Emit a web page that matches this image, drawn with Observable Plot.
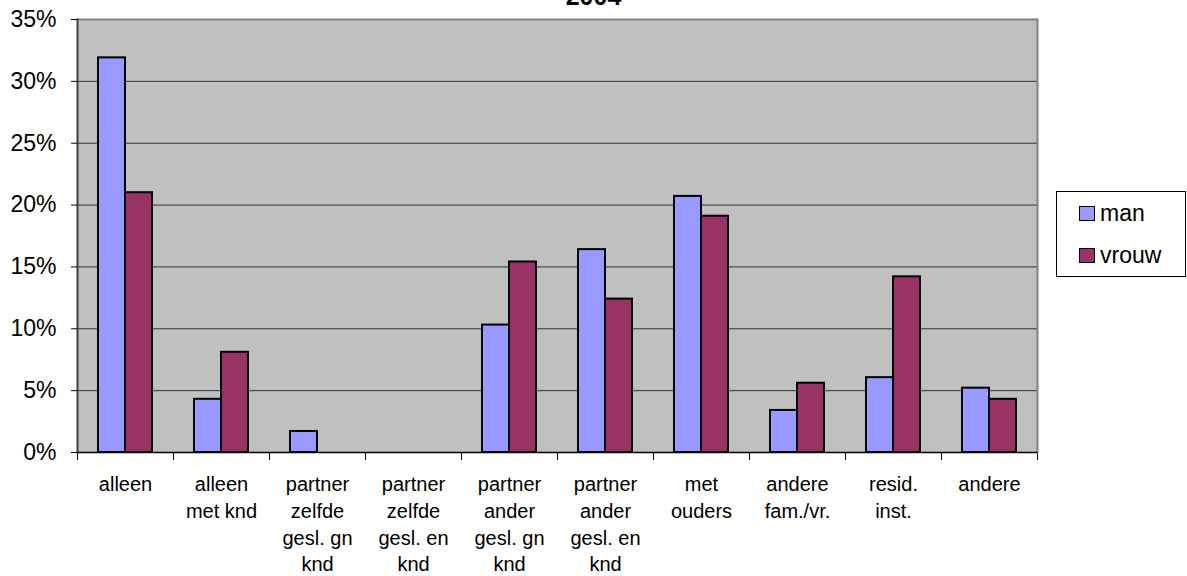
<!DOCTYPE html>
<html><head><meta charset="utf-8">
<script src="https://cdn.jsdelivr.net/npm/d3@7"></script>
<script src="https://cdn.jsdelivr.net/npm/@observablehq/plot@0.6"></script>
<style>
body{margin:0;background:#fff;font-family:"Liberation Sans",Arial,sans-serif;}
#wrap{position:relative;width:1187px;height:576px;overflow:hidden;}
#chart{position:absolute;left:0;top:0;}
#title{position:absolute;left:0;top:-16px;width:1187px;text-align:center;font-weight:bold;font-size:25px;line-height:25px;}
#legend{position:absolute;left:1056px;top:191px;width:130px;height:86px;border:1px solid #000;background:#fff;box-sizing:border-box;}
.item{position:absolute;left:22px;height:17px;display:flex;align-items:center;font-size:23px;line-height:17px;}
.sw{width:14px;height:13px;border:1.5px solid #000;margin-right:5px;flex:none;}
</style></head>
<body><div id="wrap"><div id="chart"></div><div id="title">2004</div><div id="legend"></div></div>
<script>
const categories = ["alleen","alleen\nmet knd","partner\nzelfde\ngesl. gn\nknd","partner\nzelfde\ngesl. en\nknd","partner\nander\ngesl. gn\nknd","partner\nander\ngesl. en\nknd","met\nouders","andere\nfam./vr.","resid.\ninst.","andere"];
const series = ["man","vrouw"];
const manValues = [31.9, 4.3, 1.7, 0, 10.3, 16.4, 20.7, 3.4, 6.05, 5.2];
const vrouwValues = [21.0, 8.1, 0, 0, 15.4, 12.4, 19.1, 5.6, 14.2, 4.3];
const yTicks = [0, 5, 10, 15, 20, 25, 30, 35];
const colors = ["#9999FF", "#993366"];

const data = categories.flatMap((c, i) => [
  {category: c, series: series[0], value: manValues[i]},
  {category: c, series: series[1], value: vrouwValues[i]}
]);

const tickLen = 7, plotH = 433, yMax = 35;
const yMin = -tickLen * yMax / plotH;
const first = categories[0], last = categories[categories.length - 1];

const chart = Plot.plot({
  width: 1187, height: 576,
  marginLeft: 76, marginRight: 150, marginTop: 19, marginBottom: 117,
  style: {fontFamily: '"Liberation Sans", Arial, sans-serif', color: "#000", background: "transparent"},
  fx: {domain: categories, padding: 0, axis: null},
  x: {domain: series, paddingInner: 0, paddingOuter: 0.75, axis: null},
  y: {domain: [yMin, yMax], axis: null},
  color: {domain: series, range: colors},
  marks: [
    Plot.frame({anchor: "left", stroke: "#000"}),
    Plot.frame({anchor: "right", stroke: "#000"}),
    Plot.rect([0], {y1: 0, y2: yMax, fill: "#C0C0C0", shapeRendering: "crispEdges"}),
    Plot.ruleY(yTicks.filter(t => t > 0 && t < yMax), {stroke: "#333", strokeWidth: 1}),
    Plot.ruleY([yMax], {stroke: "#808080", strokeWidth: 2}),
    Plot.frame({anchor: "left", fx: () => first, stroke: "#404040", strokeWidth: 2, insetBottom: tickLen}),
    Plot.frame({anchor: "right", fx: () => last, stroke: "#808080", strokeWidth: 2, insetBottom: tickLen}),
    Plot.barY(data, {filter: d => d.value > 0, fx: "category", x: "series", y: "value", fill: "series", stroke: "#000", strokeWidth: 2}),
    Plot.ruleY([0], {stroke: "#000", strokeWidth: 1.5}),
    Plot.axisY(yTicks, {tickSize: 6, tickPadding: 15, tickFormat: d => d + "%", fontSize: 23, stroke: "#000", fill: "#000", label: null}),
    Plot.axisFx({anchor: "bottom", tickSize: 0, tickPadding: 13, fontSize: 20, lineHeight: 1.33, label: null, fill: "#000"})
  ]
});
document.getElementById("chart").appendChild(chart);

const legend = document.getElementById("legend");
series.forEach((s, i) => {
  const item = document.createElement("div");
  item.className = "item";
  item.style.top = (13 + i * 42) + "px";
  const sw = document.createElement("div");
  sw.className = "sw";
  sw.style.background = colors[i];
  const t = document.createElement("span");
  t.textContent = s;
  item.appendChild(sw); item.appendChild(t);
  legend.appendChild(item);
});
</script>
</body></html>
